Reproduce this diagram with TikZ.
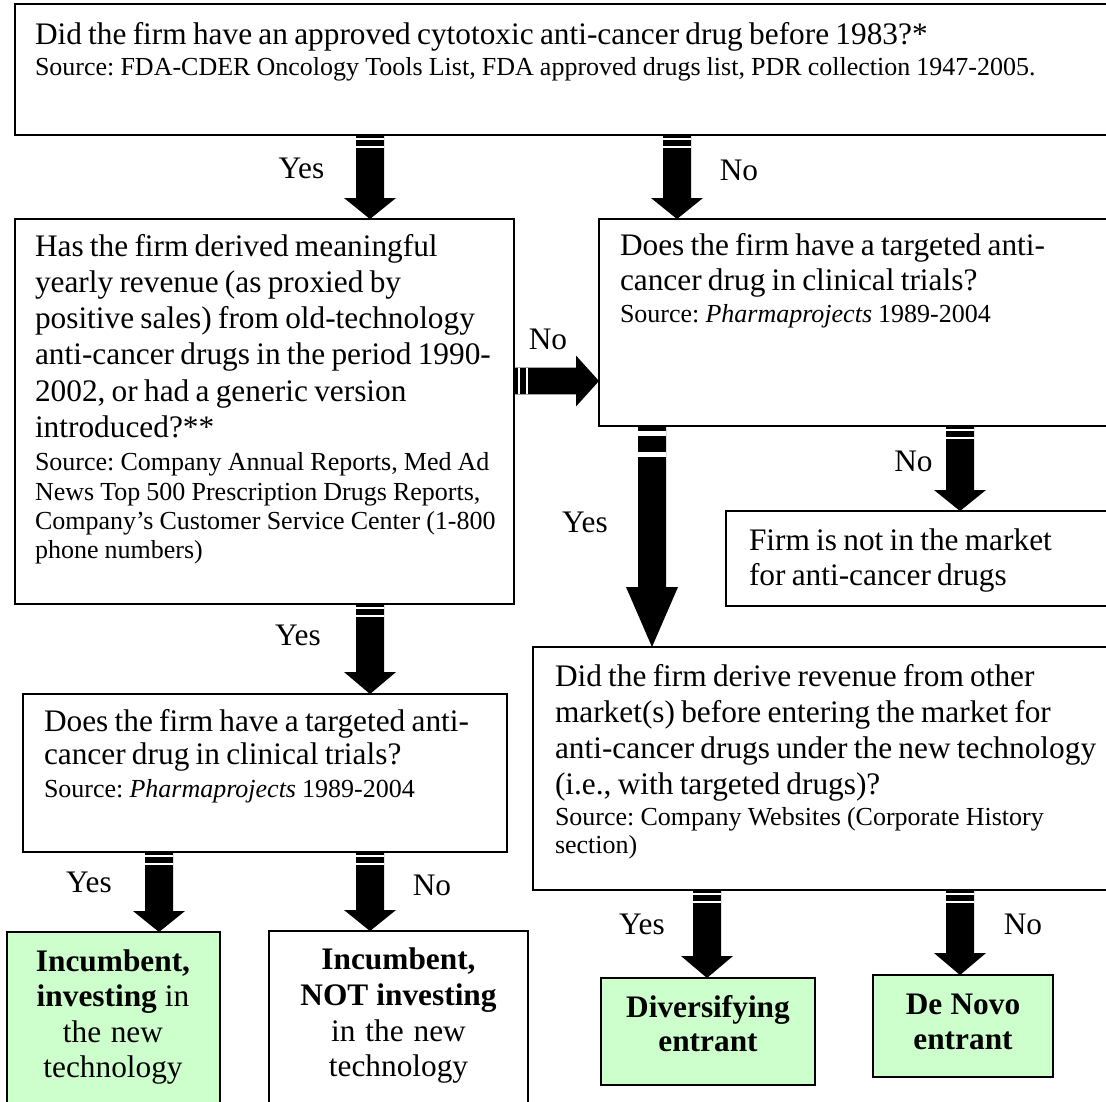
\documentclass[tikz,border=0pt]{standalone}
\usepackage{fontspec}
\setmainfont{Liberation Serif}
\usetikzlibrary{calc}
\definecolor{lgreen}{HTML}{CCFFCC}
\setlength\parindent{0pt}
\frenchspacing
\newcommand\mf[1]{\fontsize{23.5}{#1}\selectfont\spaceskip=0.2em plus 0.05em minus 0.02em\relax}
\newcommand\srcf[1]{\fontsize{19.5}{#1}\selectfont\spaceskip=0.235em plus 0.05em minus 0.02em\relax}
\newcommand\fst{\rule{0pt}{17.5pt}}
% vertical block arrow: start, end, head length (px), stripe offsets (px), stripe width
\newcommand\vblk[6]{%
 \fill[black] let \p1=(#1), \p2=(#2) in
  ({\x1-10.5pt},\y1) -- ({\x1+10.5pt},\y1) -- ({\x1+10.5pt},{\y2+#3*0.75pt}) -- ({\x1+19.5pt},{\y2+#3*0.75pt}) -- (\x1,\y2) -- ({\x1-19.5pt},{\y2+#3*0.75pt}) -- ({\x1-10.5pt},{\y2+#3*0.75pt}) -- cycle;
 \draw[white,line width=#6] let \p1=(#1) in
  ({\x1-10.5pt},{\y1-#4*0.75pt}) -- ({\x1+10.5pt},{\y1-#4*0.75pt})
  ({\x1-10.5pt},{\y1-#5*0.75pt}) -- ({\x1+10.5pt},{\y1-#5*0.75pt});
}
\tikzset{
  box/.style={draw=black, line width=1.2pt, fill=white, rectangle, anchor=north west, inner sep=0pt, outer sep=0pt},
  gbox/.style={box, fill=lgreen},
  txt/.style={anchor=north west, inner sep=0pt, outer sep=0pt, text width={700*0.75pt}, align=left},
  ctxt/.style={anchor=north, inner sep=0pt, outer sep=0pt, align=center},
  lab/.style={anchor=base, inner sep=0pt, outer sep=0pt, font=\mf{27pt}}
}
\begin{document}
\begin{tikzpicture}[x=0.75pt,y=-0.75pt]
\useasboundingbox (0,0) rectangle (1106,1101);
% boxes
\node[box, minimum width={1100*0.75pt}, minimum height={131*0.75pt}] (top) at (15,4) {};
\node[box, minimum width={499*0.75pt}, minimum height={385*0.75pt}] (rev) at (15,219) {};
\node[box, minimum width={516*0.75pt}, minimum height={207*0.75pt}] (trgR) at (599,219) {};
\node[box, minimum width={389*0.75pt}, minimum height={95*0.75pt}] (notm) at (726,511) {};
\node[box, minimum width={582*0.75pt}, minimum height={243*0.75pt}] (div) at (533,647) {};
\node[box, minimum width={484*0.75pt}, minimum height={158*0.75pt}] (trgL) at (23,694) {};
\node[gbox, minimum width={213*0.75pt}, minimum height={180*0.75pt}] (incY) at (7,932) {};
\node[box, minimum width={259*0.75pt}, minimum height={180*0.75pt}] (incN) at (269,931) {};
\node[gbox, minimum width={214*0.75pt}, minimum height={107*0.75pt}] (dive) at (601,978) {};
\node[gbox, minimum width={180*0.75pt}, minimum height={102*0.75pt}] (dnov) at (873,975) {};
% arrow columns
\coordinate (c1) at (370,0);
\coordinate (c2) at (677,0);
\coordinate (c3) at (652,0);
\coordinate (c4) at (960,0);
\coordinate (c5) at (159,0);
\coordinate (c6) at (707,0);
\coordinate (r1) at (0,381);
% arrows
\vblk{top.south -| c1}{rev.north -| c1}{21}{4}{12}{0.8pt}
\vblk{top.south -| c2}{trgR.north -| c2}{21}{4}{12}{0.8pt}
\vblk{trgR.south -| c3}{div.north -| c3}{60}{7.4}{28.5}{3.4pt}
\vblk{trgR.south -| c4}{notm.north -| c4}{21}{4}{12}{0.8pt}
\vblk{rev.south -| c1}{trgL.north -| c1}{22}{4}{12}{0.8pt}
\vblk{trgL.south -| c5}{incY.north -| c5}{21}{4}{12}{0.8pt}
\vblk{trgL.south -| c1}{incN.north -| c1}{21}{4}{12}{0.8pt}
\vblk{div.south -| c6}{dive.north -| c6}{22}{4}{12}{0.8pt}
\vblk{div.south -| c4}{dnov.north -| c4}{22}{4}{12}{0.8pt}
\fill[black] let \p1=(rev.east |- r1), \p2=(trgR.west |- r1) in
  (\x1,{\y1+10.1pt}) -- ({\x2-17.25pt},{\y1+10.1pt}) -- ({\x2-17.25pt},{\y1+19.1pt}) -- (\x2,\y1)
  -- ({\x2-17.25pt},{\y1-19.1pt}) -- ({\x2-17.25pt},{\y1-10.1pt}) -- (\x1,{\y1-10.1pt}) -- cycle;
\draw[white,line width=0.8pt] let \p1=(rev.east |- r1) in
  ({\x1+3.75pt},{\y1+10.1pt}) -- ({\x1+3.75pt},{\y1-10.1pt})
  ({\x1+9.75pt},{\y1+10.1pt}) -- ({\x1+9.75pt},{\y1-10.1pt});
% texts
\node[txt, text width={1060*0.75pt}] (t1) at (35,20.7) {\mf{27pt}\fst Did the firm have an approved cytotoxic anti-cancer drug before 1983?*\par
  \vspace{1.25pt}\srcf{22pt}Source: FDA-CDER Oncology Tools List, FDA approved drugs list, PDR collection 1947-2005.\par};
\node[txt] (t2) at (35,232.7) {\mf{27.2pt}\fst Has the firm derived meaningful\\
  yearly revenue (as proxied by\\
  positive sales) from old-technology\\
  anti-cancer drugs in the period 1990-\\
  2002, or had a generic version\\
  introduced?**\par
  \vspace{3.1pt}\srcf{22pt}Source: Company Annual Reports, Med Ad\\
  News Top 500 Prescription Drugs Reports,\\
  Company’s Customer Service Center (1-800\\
  phone numbers)\par};
\node[txt] (t3) at (620,231.7) {\mf{26.5pt}\fst Does the firm have a targeted anti-\\
  cancer drug in clinical trials?\par
  \vspace{2pt}\srcf{22pt}Source: \textit{Pharmaprojects} 1989-2004\par};
\node[txt] (t4) at (749,526.7) {\mf{26.25pt}\fst Firm is not in the market\\
  for anti-cancer drugs\par};
\node[txt] (t5) at (555,662.7) {\mf{27.1pt}\fst Did the firm derive revenue from other\\
  market(s) before entering the market for\\
  anti-cancer drugs under the new technology\\
  (i.e., with targeted drugs)?\par
  \vspace{2.4pt}\srcf{21pt}Source: Company Websites (Corporate History\\
  section)\par};
\node[txt] (t6) at (44,707.7) {\mf{25.1pt}\fst Does the firm have a targeted anti-\\
  cancer drug in clinical trials?\par
  \vspace{3.1pt}\srcf{22pt}Source: \textit{Pharmaprojects} 1989-2004\par};
\node[ctxt, text width={213*0.75pt}] (t7) at (113,948.2) {\mf{26.5pt}\fst\textbf{Incumbent,}\\
  \textbf{investing} in\\ the new\\ technology\par};
\node[ctxt, text width={259*0.75pt}] (t8) at (398.5,946.4) {\mf{26.8pt}\fst\textbf{Incumbent,}\\
  \textbf{NOT investing}\\ in the new\\ technology\par};
\node[ctxt, text width={214*0.75pt}] (t9) at (708,993.7) {\mf{25.5pt}\fst\textbf{Diversifying}\\
  \textbf{entrant}\par};
\node[ctxt, text width={180*0.75pt}] (t10) at (963,990.7) {\mf{26.25pt}\fst\textbf{De Novo}\\
  \textbf{entrant}\par};
% labels
\node[lab] (l1) at (301.5,178) {Yes};
\node[lab] (l2) at (739,180) {No};
\node[lab] (l3) at (548,349) {No};
\node[lab] (l4) at (913.5,471) {No};
\node[lab] (l5) at (585,532.6) {Yes};
\node[lab] (l6) at (298,645) {Yes};
\node[lab] (l7) at (89,892) {Yes};
\node[lab] (l8) at (432,895.7) {No};
\node[lab] (l9) at (642,934.5) {Yes};
\node[lab] (l10) at (1023,934) {No};
\end{tikzpicture}
\end{document}
